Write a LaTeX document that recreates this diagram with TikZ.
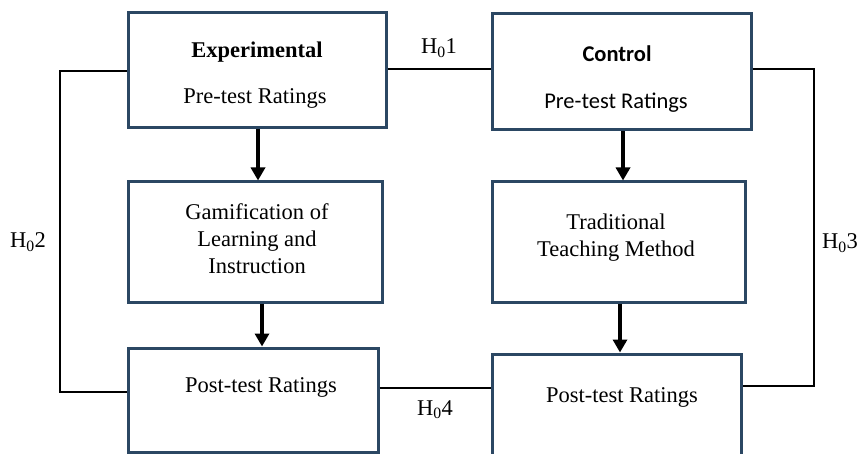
\documentclass[tikz,border=0pt]{standalone}
\usepackage{fontspec}
\setmainfont{Liberation Serif}
\newfontfamily\calibri{Carlito}
\usepackage{tikz}
\usetikzlibrary{calc,arrows.meta}
\definecolor{boxblue}{HTML}{2B4763}
\tikzset{
  box/.style={draw=boxblue, line width=3pt, rectangle, inner sep=0pt},
  txt/.style={font=\fontsize{22.5}{27}\selectfont, inner sep=0pt, align=center},
  link/.style={line width=1.8pt, black},
  flow/.style={line width=4pt, -{Triangle[length=13pt,width=14pt]}}
}

\begin{document}
\begin{tikzpicture}[x=1pt,y=-1pt]
\useasboundingbox (0,0) rectangle (858,454);
% boxes
\node[box, minimum width=258pt, minimum height=115pt] (b1) at (257,70.5) {};
\node[box, minimum width=259pt, minimum height=116pt] (b2) at (621.5,72) {};
\node[box, minimum width=254pt, minimum height=120pt] (b3) at (255,242) {};
\node[box, minimum width=253pt, minimum height=120pt] (b4) at (618.5,242) {};
\node[box, minimum width=250pt, minimum height=104pt] (b5) at (253,400) {};
\node[box, minimum width=249pt, minimum height=106pt] (b6) at (616.5,407) {};
% box texts
\node[txt] (t1a) at (257,52) {\textbf{Experimental}};
\node[txt] (t1b) at (255,98) {Pre-test Ratings};
\node[txt] (t2a) at (617,54) {\calibri\textbf{Control}};
\node[txt] (t2b) at (616,103) {\calibri Pre-test Ratings};
\node[txt] (t3) at (257,239) {Gamification of\\Learning and\\Instruction};
\node[txt] (t4) at (616,238) {Traditional\\Teaching Method};
\node[txt] (t5) at (261,387) {Post-test Ratings};
\node[txt] (t6) at (622,397) {Post-test Ratings};
% hypothesis lines
\coordinate (l1) at (60,71);
\coordinate (l2) at (60,392);
\coordinate (r1) at (814,69);
\coordinate (r2) at (814,386);
\draw[link] (b1.east |- r1) -- (b2.west |- r1);
\draw[link] (b1.west |- l1) -- (l1) -- (l2) -- (b5.west |- l2);
\draw[link] (b2.east |- r1) -- (r1) -- (r2) -- (b6.east |- r2);
\draw[link] (b5.east |- 0,388) -- (b6.west |- 0,388);
\node[txt] (h1) at (439,48) {H\textsubscript{0}1};
\node[txt] (h2) at (28,242) {H\textsubscript{0}2};
\node[txt] (h3) at (840,243) {H\textsubscript{0}3};
\node[txt] (h4) at (435,410) {H\textsubscript{0}4};
% flow arrows
\draw[flow] ([xshift=1pt]b1.south) -- ([xshift=1pt]b1.south |- b3.north);
\draw[flow] ([xshift=1.5pt]b2.south) -- ([xshift=1.5pt]b2.south |- b4.north);
\draw[flow] ([xshift=7pt]b3.south) -- ([xshift=7pt]b3.south |- b5.north);
\draw[flow] ([xshift=1.5pt]b4.south) -- ([xshift=1.5pt]b4.south |- b6.north);
\end{tikzpicture}
\end{document}
